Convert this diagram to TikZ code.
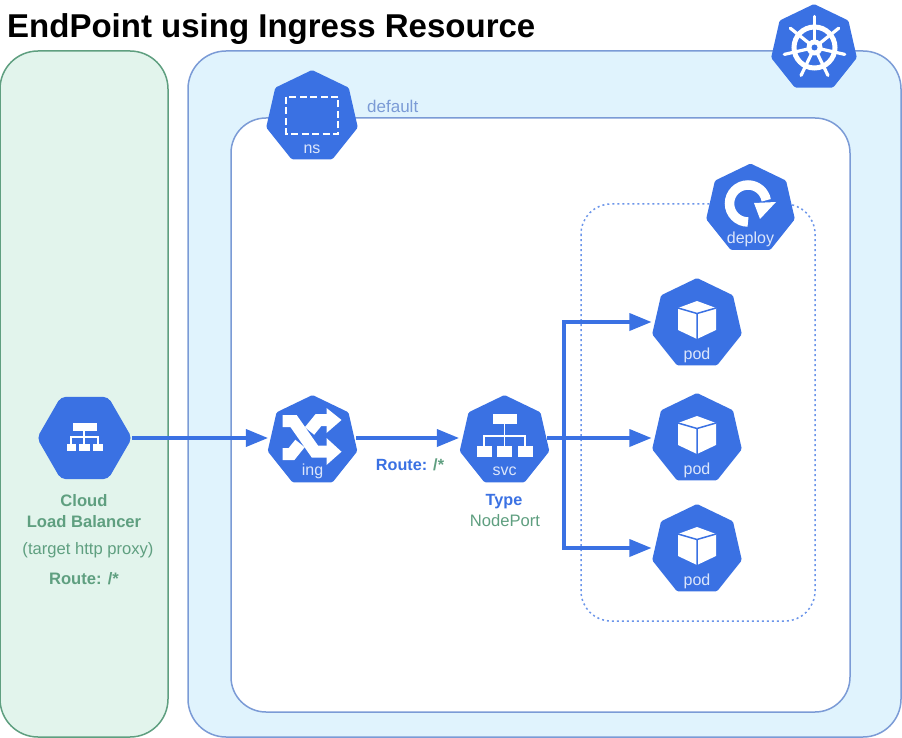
\documentclass[tikz,border=0pt]{standalone}
\usepackage{fontspec}
\setmainfont{Liberation Sans}
\usetikzlibrary{shapes.geometric,arrows.meta,calc}
\definecolor{kblue}{HTML}{3A71E3}
\definecolor{gborder}{HTML}{5F9F80}
\definecolor{gfill}{HTML}{E2F4EC}
\definecolor{bborder}{HTML}{7B9BD6}
\definecolor{bfill}{HTML}{E0F3FD}
\definecolor{iconlabel}{HTML}{DCE6FB}
\tikzset{
  hepta/.style={regular polygon,regular polygon sides=7,fill=kblue,inner sep=0pt,outer sep=0pt,rounded corners=1.5pt,minimum size=#1},
  iconlbl/.style={font=\fontsize{16}{18}\selectfont,text=iconlabel,inner sep=0pt,anchor=center},
  flow/.style={draw=kblue,line width=3.4pt,-{Triangle[length=22pt,width=17pt]}},
  lbgreen/.style={font=\bfseries\fontsize{16.6}{19}\selectfont,text=gborder,inner sep=0pt,anchor=center},
  lblblue/.style={font=\bfseries\fontsize{16.2}{19}\selectfont,text=kblue,inner sep=0pt,anchor=center},
  cube/.pic={
    \fill[white] (0,-23) -- (19,-16) -- (19,6) -- (0,15) -- (-19,6) -- (-19,-16) -- cycle;
    \draw[kblue,line width=1.5pt,line join=round] (-19,-16) -- (0,-10.5) -- (19,-16) (0,-10.5) -- (0,16);
  },
  cross/.pic={
    \draw[white,line width=12pt] (-30,-20) -- (-19,-20) -- (2.5,10.7) -- (16,10.7);
    \fill[white] (14,-3) -- (29,10.7) -- (14,24) -- cycle;
    \draw[white,line width=12pt] (-3,-10) -- (6,-21) -- (16,-21);
    \fill[white] (14,-33) -- (29,-21) -- (14,-8) -- cycle;
    \draw[white,line width=12pt] (-30,13) -- (-21,13) -- (-12.5,2.5);
  },
  wheel/.pic={
    \foreach \a in {90,141.43,192.86,244.29,295.71,347.14,398.57}
      \draw[white,line width=3.2pt,line cap=round] (0,0) -- ({31*cos(\a)},{-31*sin(\a)});
    \draw[white,line width=5pt] (0,0) circle[radius=20.5];
    \fill[white] (0,0) circle[radius=8];
    \fill[kblue] (0,0) circle[radius=3];
  },
  netbox/.pic={
    \fill[white] (-12,-27) rectangle (12,-17);
    \fill[white] (-27.5,4.7) rectangle (-13,15.7);
    \fill[white] (-7.5,4.7) rectangle (7.5,15.7);
    \fill[white] (13,4.7) rectangle (28,15.7);
    \draw[white,line width=1.8pt] (0,-17) -- (0,4.7) (-20.5,4.7) -- (-20.5,-5) -- (20.5,-5) -- (20.5,4.7);
  },
  lbbox/.pic={
    \fill[white] (-12,-15) rectangle (12,-7);
    \fill[white] (-18.5,6) rectangle (-9.5,13);
    \fill[white] (-6.5,6) rectangle (4.5,13);
    \fill[white] (8,6) rectangle (18,13);
    \draw[white,line width=2pt] (-1,-7) -- (-1,6) (-14,6) -- (-14,-1.5) -- (13,-1.5) -- (13,6);
  }
}
\begin{document}
\begin{tikzpicture}[x=1pt,y=-1pt]
\useasboundingbox (0,0) rectangle (902,738);
% panels
\draw[draw=gborder,fill=gfill,line width=1.5pt,rounded corners=38pt] (0,51) rectangle (168,737);
\draw[draw=bborder,fill=bfill,line width=1.5pt,rounded corners=38pt] (188,51) rectangle (901,737);
\draw[draw=bborder,fill=white,line width=1.5pt,rounded corners=35pt] (231,118) rectangle (850,712);
\draw[draw=kblue!75!white,line width=1.5pt,dash pattern=on 2pt off 3pt,rounded corners=30pt] (581,204) rectangle (815,621);
% title
\node[font=\bfseries\fontsize{33}{36}\selectfont,inner sep=0pt,anchor=base west] (title) at (7,38) {EndPoint using Ingress Resource};
\node[font=\fontsize{17}{19}\selectfont,text=bborder,inner sep=0pt,anchor=base west] (deflabel) at (367,113) {default};
% k8s
\node[hepta=88pt] (kube) at (814,48) {};
\pic at (814.5,47.5) {wheel};
% ns
\node[hepta=94pt] (ns) at (312,117) {};
\draw[white,line width=2.6pt,dash pattern=on 7pt off 3.5pt] (286,97) rectangle (338,134);
\node[iconlbl] (nslbl) at (312,149) {ns};
% deploy
\node[hepta=91pt] (deploy) at (750.5,209) {};
\draw[white,line width=9.5pt] (748,222) arc[start angle=90,end angle=350,radius=18.5];
\fill[white] (754,203) -- (776,202) -- (760,219) -- cycle;
\node[iconlbl] (deploylbl) at (750.5,239) {deploy};
% pods
\node[hepta=92pt] (pod1) at (697,324) {};
\node[hepta=92pt] (pod2) at (697,439) {};
\node[hepta=92pt] (pod3) at (697,550) {};
\pic at (697,324) {cube};
\pic at (697,439) {cube};
\pic at (697,550) {cube};
\node[iconlbl] (pod1lbl) at (697,355) {pod};
\node[iconlbl] (pod2lbl) at (697,470) {pod};
\node[iconlbl] (pod3lbl) at (697,581) {pod};
% ing
\node[hepta=92pt] (ing) at (312.5,441) {};
\pic at (312.5,441) {cross};
\node[iconlbl] (inglbl) at (312.5,471) {ing};
% svc
\node[hepta=92pt] (svc) at (504.5,441) {};
\pic at (504.5,441) {netbox};
\node[iconlbl] (svclbl) at (504.5,471) {svc};
% load balancer
\node[regular polygon,regular polygon sides=6,shape border rotate=0,fill=kblue,inner sep=0pt,outer sep=0pt,rounded corners=5pt,minimum size=95pt] (lb) at (84.5,438) {};
\pic at (85,438) {lbbox};
% labels
\node[lbgreen] (cloud) at (84,501) {Cloud};
\node[lbgreen] (lbname) at (84,522) {Load Balancer};
\node[font=\fontsize{16.6}{19}\selectfont,text=gborder,inner sep=0pt] (proxy) at (88,550) {(target http proxy)};
\node[lbgreen] (route1) at (84,579) {Route: /*};
\node[lblblue] (route2) at (410,465) {Route: \textcolor{gborder}{/*}};
\node[lblblue] (type) at (504,502) {Type};
\node[font=\fontsize{16.6}{19}\selectfont,text=gborder,inner sep=0pt] (nodeport) at (505,521) {NodePort};
% connectors
\coordinate (jmid) at (564,438);
\coordinate (jtop) at (564,322);
\coordinate (jbot) at (564,548);
\draw[flow,shorten >=2pt] (lb.east) -- (lb.east -| ing.west);
\draw[flow,shorten <=1pt,shorten >=3pt] (ing.east |- lb.east) -- (ing.east |- lb.east -| svc.west);
\draw[flow,shorten >=3pt] (svc.east |- jmid) -- (jmid -| pod2.west);
\draw[flow,line join=miter,shorten >=3pt] (jmid) |- (jtop -| pod1.west);
\draw[flow,line join=miter,shorten >=3pt] (jmid) |- (jbot -| pod3.west);
\end{tikzpicture}
\end{document}
